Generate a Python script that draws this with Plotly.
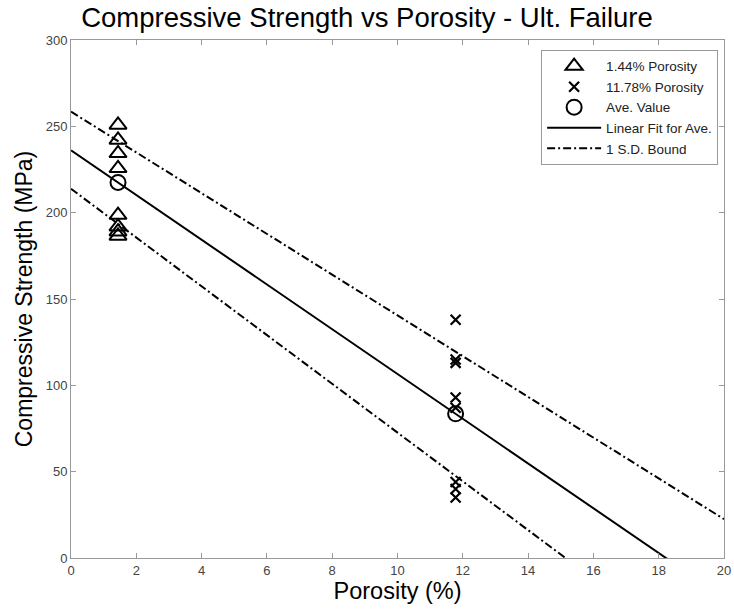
import numpy as np
import plotly.graph_objects as go

# ---- data ----
porosity_levels = [1.44, 11.78]
strength_144 = [250.8, 242.1, 234.4, 225.7, 198.6, 191.9, 189.0, 186.5]
strength_1178 = [138.0, 115.0, 113.0, 93.0, 87.0, 44.0, 40.0, 35.0]
ave_values = [217.5, 83.5]
sd_values = [24.0, 36.0]
x_range = [0, 20]
x_ticks = [0, 2, 4, 6, 8, 10, 12, 14, 16, 18, 20]
y_ticks = [0, 50, 100, 150, 200, 250, 300]

def line_through(xs, ys, xe):
    m = (ys[1] - ys[0]) / (xs[1] - xs[0])
    b = ys[0] - m * xs[0]
    xe = np.array(xe, dtype=float)
    return xe, m * xe + b

upper = [a + s for a, s in zip(ave_values, sd_values)]
lower = [a - s for a, s in zip(ave_values, sd_values)]

fig = go.Figure()
fig.add_trace(go.Scatter(
    x=[porosity_levels[0]] * len(strength_144), y=strength_144, mode="markers",
    name="1.44% Porosity",
    marker=dict(symbol="triangle-up-open", size=15, color="black", line=dict(width=2, color="black"))))
fig.add_trace(go.Scatter(
    x=[porosity_levels[1]] * len(strength_1178), y=strength_1178, mode="markers",
    name="11.78% Porosity",
    marker=dict(symbol="x-thin-open", size=10, color="black", line=dict(width=2.2, color="black"))))
fig.add_trace(go.Scatter(
    x=porosity_levels, y=ave_values, mode="markers", name="Ave. Value",
    marker=dict(symbol="circle-open", size=15, color="black", line=dict(width=2, color="black"))))

xf, yf = line_through(porosity_levels, ave_values, x_range)
fig.add_trace(go.Scatter(x=xf, y=yf, mode="lines", name="Linear Fit for Ave.",
                         line=dict(color="black", width=2)))
xu, yu = line_through(porosity_levels, upper, x_range)
fig.add_trace(go.Scatter(x=xu, y=yu, mode="lines", name="1 S.D. Bound",
                         line=dict(color="black", width=2, dash="8px,3px,2px,3px")))
xl, yl = line_through(porosity_levels, lower, x_range)
fig.add_trace(go.Scatter(x=xl, y=yl, mode="lines", name="1 S.D. Bound", showlegend=False,
                         line=dict(color="black", width=2, dash="8px,3px,2px,3px")))

axis_common = dict(showgrid=False, zeroline=False, showline=True, linecolor="#999999",
                   linewidth=1, mirror="ticks", ticks="inside", ticklen=5, automargin=False,
                   tickcolor="#999999", tickfont=dict(family="Liberation Sans", size=13, color="#444444"))

fig.update_layout(
    width=734, height=610,
    margin=dict(l=71, r=10, t=40, b=52, autoexpand=False),
    paper_bgcolor="white", plot_bgcolor="white",
    font=dict(family="Liberation Sans", color="black"),
    title=dict(text="Compressive Strength vs Porosity - Ult. Failure", x=0.5, xanchor="center",
               y=0.972, yanchor="middle", font=dict(size=27.5, color="black")),
    xaxis=dict(range=x_range, tickvals=x_ticks, title=dict(text="Porosity (%)", font=dict(size=23.5), standoff=4),
               **axis_common),
    yaxis=dict(range=[0, 300], tickvals=y_ticks, title=dict(text="Compressive Strength (MPa)", font=dict(size=23), standoff=6),
               **axis_common),
    legend=dict(x=0.991, y=0.981, xanchor="right", yanchor="top", bgcolor="white",
                bordercolor="#999999", borderwidth=1, font=dict(size=13.5, color="#222222"),
                tracegroupgap=0, itemwidth=54),
    showlegend=True,
)

fig.write_html("out.html", config={"displayModeBar": False},
               post_script="document.body.style.margin='0';")
